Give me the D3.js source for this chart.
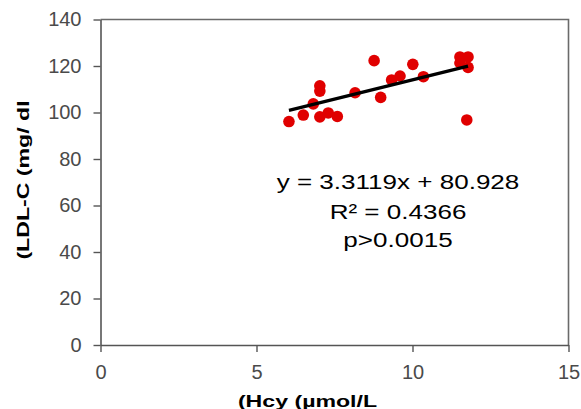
<!DOCTYPE html>
<html>
<head>
<meta charset="utf-8">
<script src="https://cdn.jsdelivr.net/npm/d3@7"></script>
<style>
  body { margin: 0; background: #fff; }
  text { font-family: "Liberation Sans", Arial, sans-serif; }
</style>
</head>
<body>
<svg id="chart"></svg>
<script>
// data
const hcy = [6.04, 6.50, 6.82, 7.03, 7.03, 7.03, 7.30, 7.59, 8.16, 8.77,
             8.98, 9.33, 9.60, 10.01, 10.35, 11.52, 11.78, 11.52, 11.78, 11.74];
const ldl = [96.1, 98.9, 103.7, 111.5, 109.2, 98.1, 99.8, 98.3, 108.5, 122.3,
             106.5, 114.0, 115.7, 120.7, 115.4, 123.9, 123.9, 121.3, 119.4, 96.8];
const fit = [3.3119, 80.928];   // slope, intercept
const xTicks = [0, 5, 10, 15];
const yTicks = [0, 20, 40, 60, 80, 100, 120, 140];
const statLines = ["y = 3.3119x + 80.928", "R\u00b2 = 0.4366", "p>0.0015"];

const width = 581, height = 409;
const plotL = 100.5, plotR = 568.5, plotT = 19.5, plotB = 345;

const svg = d3.select('#chart')
    .attr("width", width)
    .attr("height", height);

const x = d3.scaleLinear().domain([0, 15]).range([plotL, plotR]);
const y = d3.scaleLinear().domain([0, 140]).range([plotB, plotT]);

// frame top + right
svg.append("path")
    .attr("d", `M${plotL},${plotT}H${plotR}V${plotB}`)
    .attr("fill", "none")
    .attr("stroke", "#6a6a6a")
    .attr("stroke-width", 1.6);

const yAxis = svg.append("g")
    .attr("transform", `translate(${plotL},0)`)
    .call(d3.axisLeft(y).tickValues(yTicks).tickSizeInner(7).tickSizeOuter(0).tickPadding(12));

const xAxis = svg.append("g")
    .attr("transform", `translate(0,${plotB})`)
    .call(d3.axisBottom(x).tickValues(xTicks).tickSizeInner(7).tickSizeOuter(0).tickPadding(13));

[xAxis, yAxis].forEach(function (g) {
    g.select(".domain").attr("stroke", "#555").attr("stroke-width", 1.6);
    g.selectAll(".tick line").attr("stroke", "#555").attr("stroke-width", 1.4);
    g.selectAll(".tick text")
        .attr("fill", "#4a4a4a")
        .style("font-size", "20px")
        .style("font-family", "'Liberation Sans', Arial, sans-serif");
});

// points
const pts = hcy.map((d, i) => [d, ldl[i]]);
svg.selectAll("circle.pt")
    .data(pts)
    .enter()
    .append("circle")
    .attr("class", "pt")
    .attr("cx", d => x(d[0]))
    .attr("cy", d => y(d[1]))
    .attr("r", 5.8)
    .attr("fill", "#e00000");

// trend line over the data range
const x0 = d3.min(hcy), x1 = d3.max(hcy);
svg.append("line")
    .attr("x1", x(x0)).attr("y1", y(fit[0] * x0 + fit[1]))
    .attr("x2", x(x1)).attr("y2", y(fit[0] * x1 + fit[1]))
    .attr("stroke", "#000")
    .attr("stroke-width", 3.2);

// equation block
const statY = [189, 219, 247];
statLines.forEach(function (t, i) {
    svg.append("text")
        .attr("transform", `translate(398,${statY[i]}) scale(1.24,1)`)
        .attr("text-anchor", "middle")
        .style("font-size", "21px")
        .attr("fill", "#000")
        .text(t);
});

// axis titles
svg.append("text")
    .attr("transform", "translate(307.5,407) scale(1.36,1)")
    .attr("text-anchor", "middle")
    .style("font-size", "17px")
    .style("font-weight", "bold")
    .text("(Hcy (\u00b5mol/L");

svg.append("text")
    .attr("transform", "translate(28.5,180) rotate(-90) scale(1.36,1)")
    .attr("text-anchor", "middle")
    .style("font-size", "17px")
    .style("font-weight", "bold")
    .text("(LDL-C (mg/ dl");
</script>
</body>
</html>
